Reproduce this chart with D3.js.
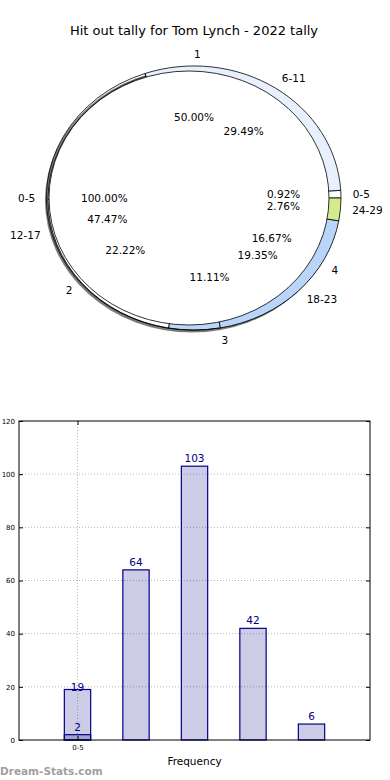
<!DOCTYPE html>
<html>
<head>
<meta charset="utf-8">
<script src="https://cdn.jsdelivr.net/npm/d3@7"></script>
<style>
  html, body { margin: 0; padding: 0; background: #fff; }
  svg { display: block; font-family: "DejaVu Sans", sans-serif; }
</style>
</head>
<body>
<svg id="chart" width="390" height="780"></svg>
<script>
// ---------- data ----------
const chartTitle = "Hit out tally for Tom Lynch - 2022 tally";

const innerCats = ["0-5"];
const innerVals = [19];

const midCats = ["1", "2", "3", "4"];
const midVals = [9, 4, 2, 3];

const outerCats = ["0-5", "6-11", "12-17", "18-23", "24-29"];
const outerVals = [2, 64, 103, 42, 6];

const barCats = ["0-5", "6-11", "12-17", "18-23", "24-29"];
const barVals = [19, 64, 103, 42, 6];
const barLowVals = [2, 0, 0, 0, 0];
const yTickVals = [0, 20, 40, 60, 80, 100, 120];
const xTickLabels = ["0-5"];
const xLabel = "Frequency";
const watermark = "Dream-Stats.com";

// ---------- styles ----------
const innerColors = ["#ffffff"];
const midColors = ["#ffffff", "#ffffff", "#bdd7f8", "#bdd7f8"];
const outerColors = ["#ffffff", "#e8f0fd", "none", "#b9d5f9", "#d3ea8f"];

const svg = d3.select("#chart");

// title
svg.append("text")
  .attr("x", 194).attr("y", 30)
  .attr("text-anchor", "middle").attr("dominant-baseline", "central")
  .attr("font-size", 13).attr("fill", "#000")
  .text(chartTitle);

// ---------- pie ----------
const CX = 194, CY = 198, RX = 147, RY = 132;
const pie = d3.pie().sort(null).value(d => d.v)
  .startAngle(Math.PI / 2).endAngle(Math.PI / 2 - 2 * Math.PI);
const arc = d3.arc().innerRadius(0).outerRadius(1);

function zip(cats, vals, colors) {
  return cats.map((c, i) => ({ c, v: vals[i], col: colors[i] }));
}
const outerData = pie(zip(outerCats, outerVals, outerColors));
const midData = pie(zip(midCats, midVals, midColors));
const innerData = pie(zip(innerCats, innerVals, innerColors));

function drawPie(data, cx, cy, rx, ry) {
  const g = svg.append("g").attr("transform", `translate(${cx},${cy}) scale(${rx},${ry})`);
  g.selectAll("path").data(data).join("path")
    .attr("d", arc)
    .attr("fill", d => d.data.col)
    .attr("stroke", "#000")
    .attr("stroke-width", 0.8)
    .attr("vector-effect", "non-scaling-stroke");
  return g;
}

// shadow
svg.append("ellipse")
  .attr("cx", CX - 2).attr("cy", CY + 2.5)
  .attr("rx", RX).attr("ry", RY)
  .attr("fill", "#444").attr("opacity", 0.7);

drawPie(midData, CX, CY + 1.5, RX - 1, RY - 1.5);
drawPie(outerData, CX, CY, RX, RY);
drawPie(innerData, CX - 5, CY, RX - 7, RY - 5);

function pos(d, fx, fy) {
  const m = (d.startAngle + d.endAngle) / 2;
  return [CX + fx * RX * Math.sin(m), CY - fy * RY * Math.cos(m), Math.sin(m)];
}

// collect percentage labels, then nudge near-colliding ones apart a little
const pctLabels = [];
function pieLabels(data) {
  const total = d3.sum(data, d => d.data.v);
  data.forEach(d => {
    const [x, y] = pos(d, 0.61, 0.61);
    pctLabels.push({ x, y, t: (d.data.v / total * 100).toFixed(2) + "%" });
    const [lx, ly, s] = pos(d, 1.08, 1.09);
    svg.append("text").attr("x", lx).attr("y", ly)
      .attr("text-anchor", s >= -1e-9 ? "start" : "end")
      .attr("dominant-baseline", "central")
      .attr("font-size", 10.5).attr("fill", "#000")
      .text(d.data.c);
  });
}
pieLabels(innerData);
pieLabels(midData);
pieLabels(outerData);

for (let i = 0; i < pctLabels.length; i++) {
  for (let j = i + 1; j < pctLabels.length; j++) {
    const a = pctLabels[i], b = pctLabels[j];
    const dy = b.y - a.y;
    if (Math.abs(a.x - b.x) < 36 && Math.abs(dy) < 12) {
      const push = (12 - Math.abs(dy)) / 2;
      const sgn = dy >= 0 ? 1 : -1;
      a.y -= sgn * push; b.y += sgn * push;
    }
  }
}
pctLabels.forEach(p => {
  svg.append("text").attr("x", p.x).attr("y", p.y)
    .attr("text-anchor", "middle").attr("dominant-baseline", "central")
    .attr("font-size", 10.5).attr("fill", "#000")
    .text(p.t);
});

// ---------- bar chart ----------
const L = 19, R = 370, T = 421, B = 740;
const x = d3.scaleLinear().domain([-1, barCats.length]).range([L, R]);
const y = d3.scaleLinear().domain([0, 120]).range([B, T]);
const bw = (x(1) - x(0)) * 0.45;

const grid = svg.append("g").attr("stroke", "#b8b8b8").attr("stroke-width", 1)
  .attr("stroke-dasharray", "1,2");
yTickVals.slice(1, -1).forEach(v => {
  grid.append("line").attr("x1", L).attr("x2", R).attr("y1", y(v)).attr("y2", y(v));
});
xTickLabels.forEach((t, i) => {
  grid.append("line").attr("x1", x(i)).attr("x2", x(i)).attr("y1", T).attr("y2", B);
});

// bars
barCats.forEach((c, i) => {
  svg.append("rect")
    .attr("x", x(i) - bw / 2).attr("width", bw)
    .attr("y", y(barVals[i])).attr("height", B - y(barVals[i]))
    .attr("fill", "rgba(0,0,128,0.2)").attr("stroke", "#000088").attr("stroke-width", 1.2);
  if (barLowVals[i] > 0) {
    svg.append("rect")
      .attr("x", x(i) - bw / 2).attr("width", bw)
      .attr("y", y(barLowVals[i])).attr("height", B - y(barLowVals[i]))
      .attr("fill", "rgba(0,0,128,0.2)").attr("stroke", "#000088").attr("stroke-width", 1.2);
  }
});
// bar labels
barCats.forEach((c, i) => {
  svg.append("text")
    .attr("x", x(i)).attr("y", y(barVals[i] - barLowVals[i]) - 8)
    .attr("text-anchor", "middle").attr("dominant-baseline", "central")
    .attr("font-size", 10.5).attr("fill", "#000080")
    .text(barVals[i]);
  if (barLowVals[i] > 0) {
    svg.append("text")
      .attr("x", x(i)).attr("y", y(barLowVals[i]) - 8)
      .attr("text-anchor", "middle").attr("dominant-baseline", "central")
      .attr("font-size", 10.5).attr("fill", "#000080")
      .text(barLowVals[i]);
  }
});

// frame
svg.append("rect").attr("x", L).attr("y", T).attr("width", R - L).attr("height", B - T)
  .attr("fill", "none").attr("stroke", "#000").attr("stroke-width", 1);

// axes with inward ticks
const yAxisL = d3.axisLeft(y).tickValues(yTickVals).tickSize(-4).tickPadding(4)
  .tickFormat(d3.format("d"));
const gy = svg.append("g").attr("transform", `translate(${L},0)`).call(yAxisL);
gy.select(".domain").remove();
gy.selectAll("text").attr("font-size", 7).attr("font-family", "DejaVu Sans").attr("fill", "#000");
const yAxisR = d3.axisRight(y).tickValues(yTickVals).tickSize(-4).tickFormat("");
const gyr = svg.append("g").attr("transform", `translate(${R},0)`).call(yAxisR);
gyr.select(".domain").remove();

const xAxisB = d3.axisBottom(x).tickValues(xTickLabels.map((t, i) => i)).tickSize(-4).tickPadding(5)
  .tickFormat(i => xTickLabels[i]);
const gx = svg.append("g").attr("transform", `translate(0,${B})`).call(xAxisB);
gx.select(".domain").remove();
gx.selectAll("text").attr("font-size", 7).attr("font-family", "DejaVu Sans").attr("fill", "#000");
const xAxisT = d3.axisTop(x).tickValues(xTickLabels.map((t, i) => i)).tickSize(-4).tickFormat("");
const gxt = svg.append("g").attr("transform", `translate(0,${T})`).call(xAxisT);
gxt.select(".domain").remove();

svg.append("text").attr("x", (L + R) / 2).attr("y", 761)
  .attr("text-anchor", "middle").attr("dominant-baseline", "central")
  .attr("font-size", 10.5).attr("fill", "#000").text(xLabel);

svg.append("text").attr("x", 0).attr("y", 771)
  .attr("dominant-baseline", "central")
  .attr("font-size", 10.5).attr("font-weight", "bold").attr("fill", "#a0a0a0")
  .text(watermark);
</script>
</body>
</html>
